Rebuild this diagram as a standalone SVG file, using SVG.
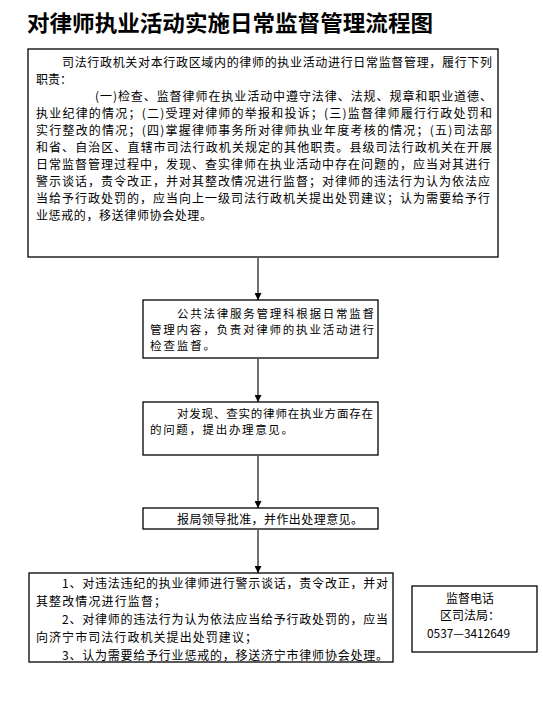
<svg xmlns="http://www.w3.org/2000/svg" width="543" height="704" viewBox="0 0 543 704">
<style>
.box{fill:#fff;stroke:#000;stroke-width:1.3}
.t{font-family:"Noto Sans CJK SC","Noto Sans",sans-serif;font-size:12px;fill:#000}
.s{font-size:11.5px}
.title{font-family:"Noto Sans CJK SC",sans-serif;font-size:22px;font-weight:bold;fill:#000}
.conn{stroke:#707070;stroke-width:2;fill:none}
</style>
<defs>
<marker id="ah" viewBox="0 0 10 10" refX="10" refY="5" markerWidth="3.5" markerHeight="3.5" orient="auto" markerUnits="strokeWidth">
<path d="M0,0 L10,5 L0,10 z" fill="#000"/>
</marker>
</defs>
<rect width="543" height="704" fill="#fff"/>
<text class="title" x="27" y="31" textLength="406" lengthAdjust="spacingAndGlyphs">对律师执业活动实施日常监督管理流程图</text>

<g id="connectors">
<line class="conn" x1="258" y1="258" x2="258" y2="300" marker-end="url(#ah)"/>
<line class="conn" x1="258" y1="359" x2="258" y2="402" marker-end="url(#ah)"/>
<line class="conn" x1="258" y1="456" x2="258" y2="508" marker-end="url(#ah)"/>
<line class="conn" x1="258" y1="530" x2="258" y2="573" marker-end="url(#ah)"/>
</g>

<g id="node1">
<rect class="box" x="28" y="49" width="470" height="208"/>
<text class="t" x="62" y="67" textLength="430" lengthAdjust="spacing">司法行政机关对本行政区域内的律师的执业活动进行日常监督管理，履行下列</text>
<text class="t" x="36" y="84">职责：</text>
<text class="t" x="95" y="101" textLength="397" lengthAdjust="spacing">(一)检查、监督律师在执业活动中遵守法律、法规、规章和职业道德、</text>
<text class="t" x="36" y="118" textLength="456" lengthAdjust="spacing">执业纪律的情况；(二)受理对律师的举报和投诉；(三)监督律师履行行政处罚和</text>
<text class="t" x="36" y="135" textLength="456" lengthAdjust="spacing">实行整改的情况；(四)掌握律师事务所对律师执业年度考核的情况；(五)司法部</text>
<text class="t" x="36" y="152" textLength="456" lengthAdjust="spacing">和省、自治区、直辖市司法行政机关规定的其他职责。县级司法行政机关在开展</text>
<text class="t" x="36" y="169" textLength="454" lengthAdjust="spacing">日常监督管理过程中，发现、查实律师在执业活动中存在问题的，应当对其进行</text>
<text class="t" x="36" y="186" textLength="454" lengthAdjust="spacing">警示谈话，责令改正，并对其整改情况进行监督；对律师的违法行为认为依法应</text>
<text class="t" x="36" y="203" textLength="454" lengthAdjust="spacing">当给予行政处罚的，应当向上一级司法行政机关提出处罚建议；认为需要给予行</text>
<text class="t" x="36" y="220" textLength="176" lengthAdjust="spacing">业惩戒的，移送律师协会处理。</text>
</g>

<g id="node2">
<rect class="box" x="143" y="300" width="235" height="58"/>
<text class="t s" x="177" y="318" textLength="197" lengthAdjust="spacing">公共法律服务管理科根据日常监督</text>
<text class="t s" x="150" y="334" textLength="224" lengthAdjust="spacing">管理内容，负责对律师的执业活动进行</text>
<text class="t s" x="150" y="350" textLength="65" lengthAdjust="spacing">检查监督。</text>
</g>

<g id="node3">
<rect class="box" x="143" y="402" width="235" height="53"/>
<text class="t s" x="177" y="418" textLength="196" lengthAdjust="spacing">对发现、查实的律师在执业方面存在</text>
<text class="t s" x="150" y="434" textLength="143" lengthAdjust="spacing">的问题，提出办理意见。</text>
</g>

<g id="node4">
<rect class="box" x="143" y="508" width="235" height="21"/>
<text class="t" x="177" y="523.5" textLength="186" lengthAdjust="spacing">报局领导批准，并作出处理意见。</text>
</g>

<g id="node5">
<rect class="box" x="29" y="573" width="364" height="89"/>
<text class="t" x="62" y="588" textLength="326" lengthAdjust="spacing">1、对违法违纪的执业律师进行警示谈话，责令改正，并对</text>
<text class="t" x="36" y="606" textLength="130" lengthAdjust="spacing">其整改情况进行监督；</text>
<text class="t" x="62" y="624" textLength="326" lengthAdjust="spacing">2、对律师的违法行为认为依法应当给予行政处罚的，应当</text>
<text class="t" x="36" y="642" textLength="221" lengthAdjust="spacing">向济宁市司法行政机关提出处罚建议；</text>
<text class="t" x="62" y="660" textLength="326" lengthAdjust="spacing">3、认为需要给予行业惩戒的，移送济宁市律师协会处理。</text>
</g>

<g id="node6">
<rect class="box" x="412" y="586" width="125" height="66"/>
<text class="t" x="470" y="603" text-anchor="middle">监督电话</text>
<text class="t" x="470" y="620" text-anchor="middle">区司法局：</text>
<text class="t" x="427" y="638" textLength="83" lengthAdjust="spacingAndGlyphs">0537—3412649</text>
</g>
</svg>
